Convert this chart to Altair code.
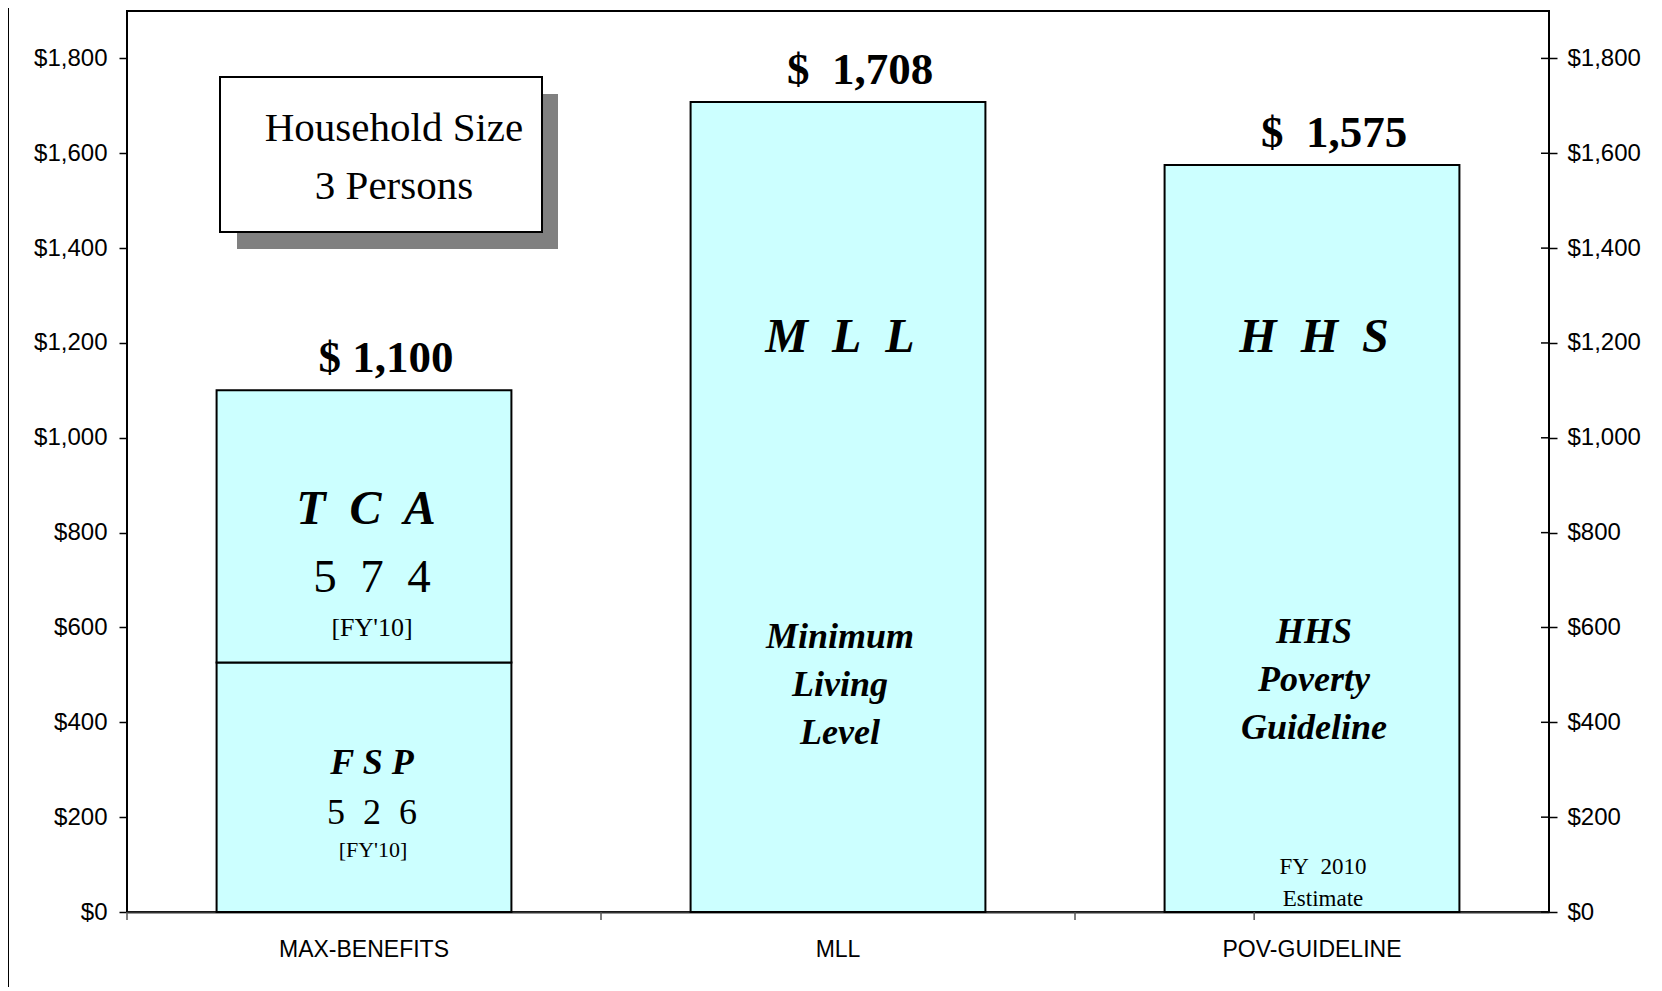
import altair as alt
import pandas as pd

# ---------------- data ----------------
categories = ["MAX-BENEFITS", "MLL", "POV-GUIDELINE"]

seg_category = ["MAX-BENEFITS", "MAX-BENEFITS", "MLL", "POV-GUIDELINE"]
seg_name = ["FSP", "TCA", "MLL", "HHS"]
seg_value = [526, 574, 1708, 1575]
seg_order = [0, 1, 0, 0]

totals = [1100, 1708, 1575]
total_text = ["$ 1,100", "$\u00a0 1,708", "$\u00a0 1,575"]

# in-bar annotations (anchor values in dollars)
big_cat = ["MAX-BENEFITS", "MLL", "POV-GUIDELINE"]
big_text = ["T\u00a0 C\u00a0 A", "M\u00a0 L\u00a0 L", "H\u00a0 H\u00a0 S"]
big_y = [818, 1180, 1181]

fsp_cat = ["MAX-BENEFITS"]
fsp_text = ["F S P"]
fsp_y = [291]

tca_num_text = ["5\u00a0 7\u00a0 4"]
tca_num_y = [675]
fsp_num_text = ["5\u00a0 2\u00a0 6"]
fsp_num_y = [186]

fy_top_text = ["[FY'10]"]
fy_top_y = [582]
fy_bot_text = ["[FY'10]"]
fy_bot_y = [117]

desc_cat = ["MLL", "POV-GUIDELINE"]
desc_text = ["Minimum\nLiving\nLevel", "HHS\nPoverty\nGuideline"]
desc_y = [557, 568]

est_cat = ["POV-GUIDELINE"]
est_text = ["FY\u00a0 2010\nEstimate"]
est_y = [80]

box_text = ["Household Size\n3 Persons"]

y_ticks = [0, 200, 400, 600, 800, 1000, 1200, 1400, 1600, 1800]
y_max = 1900

# ---------------- chart ----------------
W, H = 1422, 901
FILL = "#CCFFFF"
SERIF = "Liberation Serif"
SANS = "Liberation Sans"
P_IN, P_OUT = 0.378, 0.189
STEP = W / (len(categories) - P_IN + 2 * P_OUT)
GAP = P_IN * STEP / 2  # distance from a bar edge to the category boundary

yscale = alt.Scale(domain=[0, y_max], nice=False, zero=True)
xscale = alt.Scale(domain=categories, paddingInner=P_IN, paddingOuter=P_OUT)

x_axis = alt.Axis(
    labelAngle=0,
    labelFont=SANS,
    labelFontSize=23,
    labelColor="black",
    labelPadding=26,
    ticks=False,
    domainColor="#333333",
    domainWidth=2,
    grid=False,
)
x_enc = alt.X("cat:N", scale=xscale, sort=categories, title=None, axis=x_axis)


def y_axis(orient, pad):
    return alt.Axis(
        orient=orient,
        values=y_ticks,
        format="$,.0f",
        labelFont=SANS,
        labelFontSize=24,
        labelColor="black",
        labelPadding=pad,
        tickSize=8,
        tickColor="black",
        tickWidth=1.5,
        domain=False,
        grid=False,
    )


bars_df = pd.DataFrame(
    {"cat": seg_category, "seg": seg_name, "value": seg_value, "ord": seg_order}
)
bars = (
    alt.Chart(bars_df)
    .mark_bar(fill=FILL, stroke="black", strokeWidth=2)
    .encode(
        x=x_enc,
        y=alt.Y("value:Q", stack="zero", scale=yscale, title=None,
                axis=y_axis("left", 12)),
        detail="seg:N",
        order=alt.Order("ord:Q"),
    )
)

tot_df = pd.DataFrame({"cat": categories, "total": totals, "label": total_text})
tot_labels = (
    alt.Chart(tot_df)
    .mark_text(
        font=SERIF, fontSize=45, fontWeight="bold", color="black",
        baseline="alphabetic", dy=-18, dx=22,
    )
    .encode(
        x=x_enc,
        y=alt.Y("total:Q", scale=yscale, title=None, axis=y_axis("right", 10)),
        text="label:N",
    )
)

# category-boundary tick marks on the x axis
tick_df = pd.DataFrame({"cat": categories})
ticks_left = alt.Chart(tick_df).mark_rule(color="#555555", strokeWidth=1.5).encode(
    x=alt.X("cat:N", scale=xscale, sort=categories, title=None, axis=x_axis,
            bandPosition=0),
    xOffset=alt.value(-GAP),
    y=alt.value(H), y2=alt.value(H + 8),
)
ticks_right = alt.Chart(pd.DataFrame({"cat": categories[-1:]})).mark_rule(
    color="#555555", strokeWidth=1.5
).encode(
    x=alt.X("cat:N", scale=xscale, sort=categories, title=None, axis=x_axis,
            bandPosition=1),
    xOffset=alt.value(GAP),
    y=alt.value(H), y2=alt.value(H + 8),
)

# inner half of the crossing ticks on the right-hand value axis
rtick_df = pd.DataFrame({"v": y_ticks})
ticks_in = alt.Chart(rtick_df).mark_rule(color="black", strokeWidth=1.5).encode(
    y=alt.Y("v:Q", scale=yscale, axis=None),
    x=alt.value(W - 8), x2=alt.value(W),
)


def ann(cats, texts, ys, **style):
    df = pd.DataFrame({"cat": cats, "txt": texts, "yv": ys})
    base = dict(font=SERIF, color="black", baseline="alphabetic", lineBreak="\n")
    base.update(style)
    return (
        alt.Chart(df)
        .mark_text(**base)
        .encode(
            x=x_enc,
            y=alt.Y("yv:Q", scale=yscale, axis=None),
            text="txt:N",
        )
    )


big = ann(big_cat, big_text, big_y, fontSize=48, fontWeight="bold", fontStyle="italic", dx=2)
fsp = ann(fsp_cat, fsp_text, fsp_y, fontSize=36, fontWeight="bold", fontStyle="italic", dx=8)
tca_num = ann(fsp_cat, tca_num_text, tca_num_y, fontSize=47, dx=8)
fsp_num = ann(fsp_cat, fsp_num_text, fsp_num_y, fontSize=36, dx=8)
fy_top = ann(fsp_cat, fy_top_text, fy_top_y, fontSize=26, dx=8)
fy_bot = ann(fsp_cat, fy_bot_text, fy_bot_y, fontSize=22, dx=9)
desc = ann(desc_cat, desc_text, desc_y, fontSize=36, fontWeight="bold", fontStyle="italic",
           lineHeight=48, dx=2)
est = ann(est_cat, est_text, est_y, fontSize=23, lineHeight=32, dx=11)

# Household size text box (decoration)
one = pd.DataFrame({"t": box_text})
shadow = alt.Chart(one).mark_rect(fill="#808080").encode(
    x=alt.value(110), x2=alt.value(431), y=alt.value(83), y2=alt.value(238)
)
box = alt.Chart(one).mark_rect(fill="white", stroke="black", strokeWidth=2).encode(
    x=alt.value(93), x2=alt.value(415), y=alt.value(66), y2=alt.value(221)
)
box_txt = alt.Chart(one).mark_text(
    font=SERIF, fontSize=41, color="black", baseline="alphabetic",
    lineBreak="\n", lineHeight=58, align="center",
).encode(x=alt.value(267), y=alt.value(130), text="t:N")

# outer chart border (left edge)
border = alt.Chart(one).mark_rule(color="black", strokeWidth=2).encode(
    x=alt.value(-119), y=alt.value(-20), y2=alt.value(H + 100)
)

chart = (
    alt.layer(
        bars, tot_labels, ticks_left, ticks_right, ticks_in,
        big, fsp, tca_num, fsp_num, fy_top, fy_bot, desc, est,
        shadow, box, box_txt, border,
    )
    .resolve_axis(y="independent")
    .properties(
        width=W,
        height=H,
        autosize=alt.AutoSizeParams(type="none"),
        padding={"left": 119, "top": 3, "right": 105, "bottom": 75},
        background="white",
    )
    .configure_view(stroke="black", strokeWidth=2)
)

chart.save("out.html", embed_options={"renderer": "svg", "actions": False})
